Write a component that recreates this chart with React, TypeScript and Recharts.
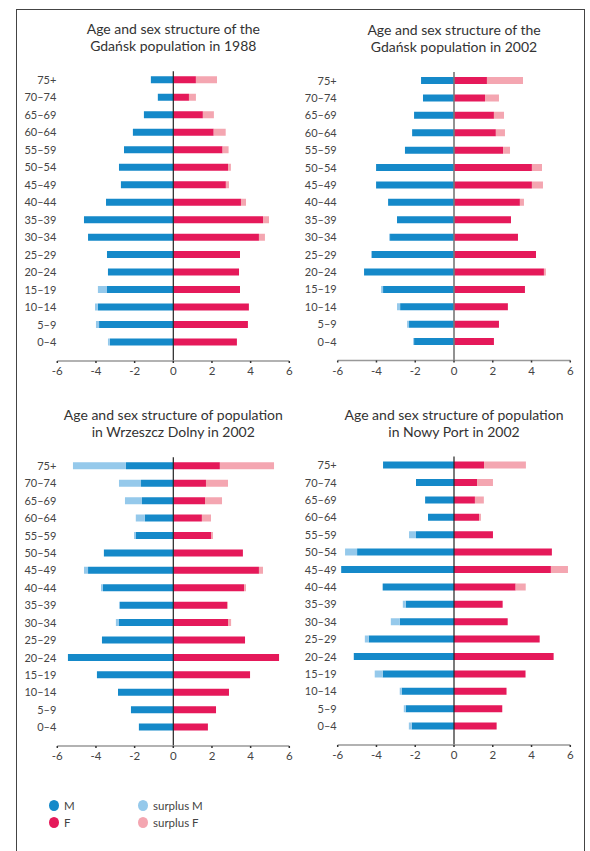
import React from 'react';
import { BarChart, Bar, XAxis, YAxis, ReferenceLine } from 'recharts';

const AGES = ['75+', '70–74', '65–69', '60–64', '55–59', '50–54', '45–49', '40–44', '35–39', '30–34', '25–29', '20–24', '15–19', '10–14', '5–9', '0–4'];
const TICKS = [-6, -4, -2, 0, 2, 4, 6];

// Gdańsk 1988
const g88M = [1.16, 0.8, 1.52, 2.09, 2.55, 2.81, 2.71, 3.48, 4.62, 4.41, 3.43, 3.38, 3.43, 3.9, 3.84, 3.28];
const g88SurplusM = [0, 0, 0, 0, 0, 0, 0, 0, 0, 0, 0, 0, 0.47, 0.15, 0.16, 0.1];
const g88F = [1.17, 0.81, 1.53, 2.09, 2.55, 2.83, 2.72, 3.5, 4.64, 4.43, 3.45, 3.4, 3.45, 3.91, 3.86, 3.29];
const g88SurplusF = [1.09, 0.36, 0.57, 0.62, 0.31, 0.15, 0.16, 0.26, 0.31, 0.31, 0, 0, 0, 0, 0, 0];

// Gdańsk 2002
const g02M = [1.7, 1.6, 2.06, 2.16, 2.53, 4.02, 4.02, 3.4, 2.94, 3.3, 4.23, 4.64, 3.66, 2.78, 2.32, 2.06];
const g02SurplusM = [0, 0, 0, 0, 0, 0, 0, 0, 0, 0.05, 0.05, 0, 0.1, 0.16, 0.1, 0.05];
const g02F = [1.7, 1.6, 2.06, 2.16, 2.53, 4.02, 4.02, 3.4, 2.94, 3.3, 4.23, 4.64, 3.66, 2.78, 2.32, 2.06];
const g02SurplusF = [1.86, 0.72, 0.52, 0.47, 0.36, 0.52, 0.57, 0.21, 0, 0, 0, 0.1, 0, 0, 0, 0];

// Wrzeszcz Dolny 2002
const wdM = [2.45, 1.67, 1.62, 1.47, 1.93, 3.59, 4.41, 3.64, 2.76, 2.81, 3.69, 5.45, 3.95, 2.86, 2.19, 1.78];
const wdSurplusM = [2.74, 1.14, 0.88, 0.47, 0.1, 0, 0.21, 0.1, 0.05, 0.16, 0, 0, 0, 0, 0, 0];
const wdF = [2.41, 1.69, 1.64, 1.48, 1.95, 3.6, 4.43, 3.66, 2.78, 2.83, 3.71, 5.47, 3.97, 2.88, 2.21, 1.79];
const wdSurplusF = [2.8, 1.14, 0.88, 0.47, 0.1, 0, 0.21, 0.1, 0.05, 0.16, 0, 0, 0, 0, 0, 0];

// Nowy Port 2002
const npM = [3.66, 1.96, 1.49, 1.34, 1.96, 5.0, 5.82, 3.68, 2.49, 2.8, 4.4, 5.17, 3.68, 2.7, 2.49, 2.18];
const npSurplusM = [0, 0, 0, 0, 0.36, 0.62, 0, 0, 0.15, 0.46, 0.2, 0, 0.41, 0.1, 0.1, 0.15];
const npF = [1.55, 1.19, 1.08, 1.29, 2.01, 5.05, 5.0, 3.18, 2.51, 2.77, 4.42, 5.14, 3.69, 2.71, 2.49, 2.2];
const npSurplusF = [2.16, 0.82, 0.46, 0.1, 0, 0, 0.88, 0.52, 0, 0, 0, 0, 0, 0, 0, 0];

const BLUE = '#1589c9';
const LIGHT_BLUE = '#95c9eb';
const RED = '#e5195a';
const PINK = '#f4a6b1';
const TEXT = '#444';
const FONT = 'Lato, "Open Sans", sans-serif';

function buildRows(m: number[], sm: number[], f: number[], sf: number[]) {
  return AGES.map((age, i) => ({ age, m: -m[i], sm: -sm[i], f: f[i], sf: sf[i] }));
}

interface PyramidProps {
  title: string[];
  rows: any[];
  left: number;
  top: number;
  plotLeft: number;
  plotRight: number;
  plotTop: number;
  axisY: number;
  zeroColor: string;
}

function Pyramid({ title, rows, left, top, plotLeft, plotRight, plotTop, axisY, zeroColor }: PyramidProps) {
  const width = 300;
  const height = 395;
  const zeroX = (plotLeft + plotRight) / 2;
  return (
    <>
      <div
        style={{
          position: 'absolute',
          left: zeroX - 150,
          top: plotTop - 51,
          width: 300,
          textAlign: 'center',
          fontFamily: FONT,
          fontSize: 14,
          lineHeight: '17px',
          color: '#333',
        }}
      >
        {title.map((t) => (
          <div key={t}>{t}</div>
        ))}
      </div>
      <div style={{ position: 'absolute', left, top }}>
        <BarChart
          width={width}
          height={height}
          data={rows}
          layout="vertical"
          stackOffset="sign"
          margin={{
            top: plotTop - top,
            left: 0,
            right: left + width - plotRight,
            bottom: top + height - axisY - 30,
          }}
        >
          <XAxis
            type="number"
            domain={[-6, 6]}
            ticks={TICKS}
            allowDataOverflow
            height={30}
            axisLine={{ stroke: '#999', strokeWidth: 1.4 }}
            tickLine={{ stroke: '#333', strokeWidth: 1.5 }}
            tickSize={2}
            tickMargin={4}
            tick={{ fill: TEXT, fontSize: 11.5, fontFamily: FONT }}
          />
          <YAxis
            type="category"
            dataKey="age"
            width={plotLeft - left}
            axisLine={false}
            tickLine={false}
            tickSize={0}
            tickMargin={1}
            interval={0}
            padding={{ top: 0, bottom: 10 }}
            tick={{ fill: TEXT, fontSize: 11, fontFamily: FONT }}
          />
          <Bar dataKey="m" stackId="a" fill={BLUE} barSize={7} isAnimationActive={false} />
          <Bar dataKey="sm" stackId="a" fill={LIGHT_BLUE} barSize={7} isAnimationActive={false} />
          <Bar dataKey="f" stackId="a" fill={RED} barSize={7} isAnimationActive={false} />
          <Bar dataKey="sf" stackId="a" fill={PINK} barSize={7} isAnimationActive={false} />
          <ReferenceLine x={0} stroke={zeroColor} strokeWidth={zeroColor === '#222' ? 1.2 : 1.6} />
        </BarChart>
      </div>
    </>
  );
}

function LegendItem({ x, y, color, label }: { x: number; y: number; color: string; label: string }) {
  return (
    <div style={{ position: 'absolute', left: x - 5, top: y - 6, display: 'flex', alignItems: 'center', fontFamily: FONT, fontSize: 11.5, color: TEXT }}>
      <span style={{ width: 10, height: 11, borderRadius: '50%', background: color, display: 'inline-block', marginRight: 5 }} />
      <span>{label}</span>
    </div>
  );
}

export default function App() {
  return (
    <div style={{ position: 'absolute', left: 0, top: 0, width: 590, height: 851, overflow: 'hidden', background: '#fff' }}>
      <div
        style={{
          position: 'absolute',
          left: 16,
          top: 9,
          width: 567,
          height: 900,
          borderTop: '1px solid #444',
          borderLeft: '1px solid #444',
          borderRight: '1px solid #444',
        }}
      />
      <Pyramid
        title={['Age and sex structure of the', 'Gdańsk population in 1988']}
        rows={buildRows(g88M, g88SurplusM, g88F, g88SurplusF)}
        left={0}
        top={0}
        plotLeft={57.3}
        plotRight={289.3}
        plotTop={71.3}
        axisY={361}
        zeroColor="#222"
      />
      <Pyramid
        title={['Age and sex structure of the', 'Gdańsk population in 2002']}
        rows={buildRows(g02M, g02SurplusM, g02F, g02SurplusF)}
        left={280}
        top={0}
        plotLeft={337.7}
        plotRight={570.3}
        plotTop={72}
        axisY={360.5}
        zeroColor="#777"
      />
      <Pyramid
        title={['Age and sex structure of population', 'in Wrzeszcz Dolny in 2002']}
        rows={buildRows(wdM, wdSurplusM, wdF, wdSurplusF)}
        left={0}
        top={390}
        plotLeft={57.3}
        plotRight={289.3}
        plotTop={457.3}
        axisY={746}
        zeroColor="#222"
      />
      <Pyramid
        title={['Age and sex structure of population', 'in Nowy Port in 2002']}
        rows={buildRows(npM, npSurplusM, npF, npSurplusF)}
        left={280}
        top={390}
        plotLeft={337.7}
        plotRight={570.3}
        plotTop={456.6}
        axisY={745}
        zeroColor="#222"
      />
      <LegendItem x={54} y={805} color={BLUE} label="M" />
      <LegendItem x={54} y={822} color={RED} label="F" />
      <LegendItem x={143} y={805} color={LIGHT_BLUE} label="surplus M" />
      <LegendItem x={143} y={822} color={PINK} label="surplus F" />
    </div>
  );
}
